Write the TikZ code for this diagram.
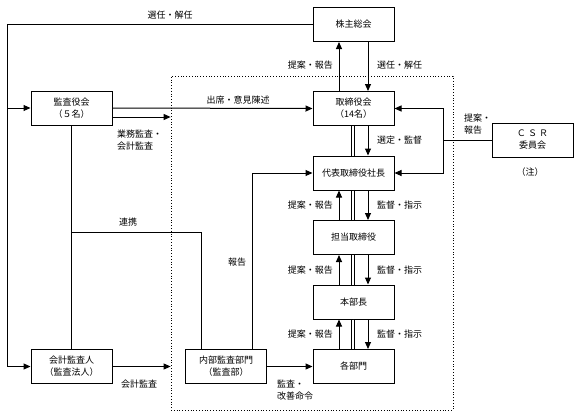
\documentclass[tikz,border=0pt]{standalone}
\usepackage{fontspec}
\newfontfamily\jp{Noto Sans CJK JP}
\usetikzlibrary{arrows.meta,calc}
\begin{document}
\begin{tikzpicture}[x=1pt,y=-1pt,
  font=\jp\fontsize{9}{12}\selectfont,
  box/.style={draw,line width=1pt,minimum width=81pt,minimum height=34pt,inner sep=0pt,align=center,fill=white},
  ln/.style={line width=1pt},
  arr/.style={line width=1pt,-{Triangle[length=7pt,width=6pt]}},
  dbl/.style={double,line width=0.8pt,double distance=2.2pt},
  lbl/.style={inner sep=0pt,align=left}]
\useasboundingbox (0,0) rectangle (580,416);
% dotted frame
\node (dbox) [draw,dotted,line width=0.8pt,minimum width=282pt,minimum height=334pt,inner sep=0pt] at (312,243) {};
% boxes
\node (kabu) [box] at (353.5,24.5) {株主総会};
\node (tori) [box] at (353.5,108.5) {取締役会\\（14名）};
\node (dai)  [box] at (353.5,173) {代表取締役社長};
\node (tan)  [box] at (353.5,237.5) {担当取締役};
\node (hon)  [box] at (353.5,302) {本部長};
\node (kaku) [box] at (353.5,366.5) {各部門};
\node (kansa) [box] at (71.5,108) {監査役会\\（５名）};
\node (kaikei) [box] at (71.5,366.5) {会計監査人\\（監査法人）};
\node (naibu) [box] at (226,366.5) {内部監査部門\\（監査部）};
\node (csr) [box] at (532.5,140) {Ｃ Ｓ Ｒ\\委員会};
\node (chu) [lbl] at (530,172) {（注）};
% left loop
\coordinate (Ltop) at (7,24.5);
\draw[arr] (kabu.west) -- (Ltop) |- (kaikei.west);
\draw[arr] (Ltop |- kansa.west) -- (kansa.west);
\node[lbl] (l1) at (170,15) {選任・解任};
% kansa to tori and frame
\draw[arr] (kansa.east) -- (tori.west);
\node[lbl] (l2) at (238,100) {出席・意見陳述};
\coordinate (k2) at ($(kansa.east)+(0,9)$);
\draw[arr] (k2) -- (k2 -| dbox.west);
\node[lbl,anchor=west] (l3) at (117,140.5) {業務監査・\\会計監査};
% renkei
\draw[ln] (kansa.south) -- (kaikei.north);
\coordinate (rA) at (71.5,232);
\coordinate (rB) at ($(naibu.north)+(-25,0)$);
\draw[ln] (rA) -| (rB);
\node[lbl] (l4) at (128,222) {連携};
% kaikei audit
\draw[arr] (kaikei.east) -- (kaikei.east -| dbox.west);
\node[lbl] (l5) at (139,384) {会計監査};
% naibu
\draw[arr] ($(naibu.north)+(26,0)$) |- (dai.west);
\node[lbl] (l6) at (237,262) {報告};
\draw[arr] (naibu.east) -- (kaku.west);
\node[lbl,anchor=west] (l7) at (277,390.5) {監査・\\改善命令};
% vertical chain
\draw[arr] ($(tori.north)+(-14.5,0)$) -- ($(kabu.south)+(-14.5,0)$);
\draw[arr] ($(kabu.south)+(14.5,0)$) -- ($(tori.north)+(14.5,0)$);
\node[lbl,anchor=east] at (333,65) {提案・報告};
\node[lbl,anchor=west] at (377,65) {選任・解任};
\draw[dbl] ($(tori.south)+(-0.5,0)$) -- ($(dai.north)+(-0.5,0)$);
\draw[arr] ($(tori.south)+(14.5,0)$) -- ($(dai.north)+(14.5,0)$);
\node[lbl,anchor=west] at (377,140) {選定・監督};
\draw[arr] ($(tan.north)+(-14.5,0)$) -- ($(dai.south)+(-14.5,0)$);
\draw[dbl] ($(dai.south)+(-0.5,0)$) -- ($(tan.north)+(-0.5,0)$);
\draw[arr] ($(dai.south)+(14.5,0)$) -- ($(tan.north)+(14.5,0)$);
\node[lbl,anchor=east] at (333,205) {提案・報告};
\node[lbl,anchor=west] at (377,205) {監督・指示};
\draw[arr] ($(hon.north)+(-14.5,0)$) -- ($(tan.south)+(-14.5,0)$);
\draw[dbl] ($(tan.south)+(-0.5,0)$) -- ($(hon.north)+(-0.5,0)$);
\draw[arr] ($(tan.south)+(14.5,0)$) -- ($(hon.north)+(14.5,0)$);
\node[lbl,anchor=east] at (333,270) {提案・報告};
\node[lbl,anchor=west] at (377,270) {監督・指示};
\draw[arr] ($(kaku.north)+(-14.5,0)$) -- ($(hon.south)+(-14.5,0)$);
\draw[dbl] ($(hon.south)+(-0.5,0)$) -- ($(kaku.north)+(-0.5,0)$);
\draw[arr] ($(hon.south)+(14.5,0)$) -- ($(kaku.north)+(14.5,0)$);
\node[lbl,anchor=east] at (333,334) {提案・報告};
\node[lbl,anchor=west] at (377,334) {監督・指示};
% CSR
\coordinate (cj) at (443,140);
\draw[ln] (csr.west) -- (cj);
\draw[arr] (cj) |- (tori.east);
\draw[arr] (cj) |- (dai.east);
\node[lbl,anchor=west] at (464,124) {提案・\\報告};
\end{tikzpicture}
\end{document}
